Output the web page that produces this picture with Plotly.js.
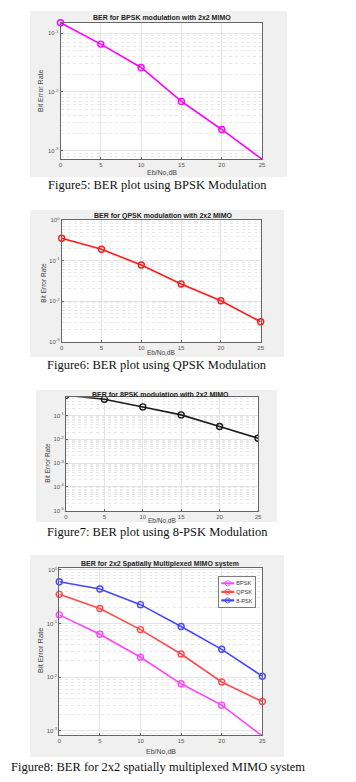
<!DOCTYPE html>
<html><head><meta charset="utf-8">
<script src="https://cdn.plot.ly/plotly-3.0.1.min.js"></script>
<style>html,body{margin:0;padding:0;background:#fff}#c{width:356px;height:782px}</style>
</head><body><div id="c"></div>
<script>
// ---- data ----
const ebNo = [0, 5, 10, 15, 20, 25];
const xTickVals = [0, 5, 10, 15, 20, 25];
const berBpskFig5 = [0.15, 0.065, 0.026, 0.0069, 0.0023, 0.00072];
const berQpskFig6 = [0.355, 0.19, 0.078, 0.0265, 0.0102, 0.0031];
const ber8pskFig7 = [0.7, 0.48, 0.227, 0.105, 0.034, 0.011];
const berBpskFig8 = [0.145, 0.063, 0.0235, 0.0075, 0.003, 0.0008];
const berQpskFig8 = [0.35, 0.19, 0.077, 0.027, 0.0081, 0.0035];
const ber8pskFig8 = [0.6, 0.44, 0.225, 0.088, 0.033, 0.0104];
const legendNames = ['BPSK', 'QPSK', '8-PSK'];
const yTickVals = [1, 0.1, 0.01, 0.001, 0.0001, 0.00001];
const yTickText = ['10<sup>0</sup>', '10<sup>-1</sup>', '10<sup>-2</sup>', '10<sup>-3</sup>', '10<sup>-4</sup>', '10<sup>-5</sup>'];
const minorVals = [];
[1, 0.1, 0.01, 0.001, 0.0001, 0.00001].forEach(d => { for (let k = 2; k <= 9; k++) minorVals.push(d * k / 10); });
const chartTitles = ['BER for BPSK modulation with 2x2 MIMO', 'BER for QPSK modulation with 2x2 MIMO',
  'BER for 8PSK modulation with 2x2 MIMO', 'BER for 2x2 Spatially Multiplexed MIMO system'];
const captions = ['Figure5: BER plot using BPSK Modulation', 'Figure6: BER plot using QPSK Modulation',
  'Figure7: BER plot using 8-PSK Modulation', 'Figure8: BER for 2x2 spatially multiplexed MIMO system'];
const xTitle = 'Eb/No,dB';
const yTitle = 'Bit Error Rate';

// ---- layout helpers ----
const W = 356, H = 782;
const px = v => v / W, py = v => 1 - v / H;
const SANS = 'Liberation Sans, Arial, sans-serif';
const tickFont = {family: SANS, size: 6, color: '#555'};

function xAxis(l, r, anchor) {
  return {domain: [px(l), px(r)], anchor: anchor, range: [0, 25], tickvals: xTickVals,
    showline: true, mirror: true, linecolor: '#666', linewidth: 1, ticks: 'inside', ticklen: 2, tickcolor: '#666',
    showgrid: true, gridcolor: '#e3e3e3', zeroline: false, tickfont: tickFont, fixedrange: true};
}
function yAxis(t, b, anchor, range) {
  return {domain: [py(b), py(t)], anchor: anchor, type: 'log', range: range,
    tickmode: 'array', tickvals: yTickVals, ticktext: yTickText,
    minor: {tickmode: 'array', tickvals: minorVals, showgrid: true, gridcolor: '#e8e8e8', griddash: 'dot', ticks: ''},
    showline: true, mirror: true, linecolor: '#666', linewidth: 1, ticks: 'inside', ticklen: 2, tickcolor: '#666',
    showgrid: true, gridcolor: '#e3e3e3', zeroline: false, tickfont: tickFont, fixedrange: true};
}
function line(y, color, xa, ya, name, show, clip) {
  return {x: ebNo, y: y, xaxis: xa, yaxis: ya, type: 'scatter', mode: 'lines+markers', name: name,
    showlegend: show, cliponaxis: clip,
    line: {color: color, width: 1.6}, marker: {symbol: 'circle-open', size: 6, color: color, line: {width: 1.4, color: color}}};
}

const data = [
  line(berBpskFig5, '#ff00ff', 'x', 'y', 'BPSK', false, false),
  line(berQpskFig6, '#ff1a1a', 'x2', 'y2', 'QPSK', false, false),
  line(ber8pskFig7, '#1a1a1a', 'x3', 'y3', '8-PSK', false, true),
  line(berBpskFig8, '#ff44ff', 'x4', 'y4', legendNames[0], true, false),
  line(berQpskFig8, '#ff4a4a', 'x4', 'y4', legendNames[1], true, false),
  line(ber8pskFig8, '#4646ff', 'x4', 'y4', legendNames[2], true, false)
];

// figure boxes: [left, top, right, bottom]
const figBoxes = [[30, 11, 287, 177], [30, 210, 284, 357], [36, 390, 277, 522], [30, 555, 284, 757]];
const shapes = [];
figBoxes.forEach(b => shapes.push({type: 'rect', xref: 'paper', yref: 'paper', layer: 'below',
  x0: px(b[0]), x1: px(b[2]), y0: py(b[3]), y1: py(b[1]), fillcolor: '#f0f0f0', line: {width: 0}}));
['', '2', '3', '4'].forEach(s => shapes.push({type: 'rect', xref: 'x' + s + ' domain', yref: 'y' + s + ' domain', layer: 'below',
  x0: 0, x1: 1, y0: 0, y1: 1, fillcolor: '#ffffff', line: {width: 0}}));

const titlePos = [[161.5, 18], [163, 215.7], [160.5, 394.3], [160, 564]];
const capPos = [[157, 185], [157, 365], [157, 531.5], [157.5, 767]];
const xTitlePos = [[161.7, 172.5, 7], [161, 353, 6.5], [162, 520.5, 6.5], [161, 751.5, 7]];
const yTitlePos = [[40, 91, 7], [42.7, 283, 6.5], [46.7, 463, 6.5], [40, 651, 7.5]];
const annotations = [];
// captions first so the smaller texts are drawn above them
captions.forEach((t, i) => annotations.push({text: t, xref: 'paper', yref: 'paper',
  x: px(capPos[i][0]), y: py(capPos[i][1]), xanchor: 'center', yanchor: 'middle', showarrow: false,
  font: {family: 'Liberation Serif, Times New Roman, serif', size: 12.5, color: '#111'}}));
chartTitles.forEach((t, i) => annotations.push({text: '<b>' + t + '</b>', xref: 'paper', yref: 'paper',
  x: px(titlePos[i][0]), y: py(titlePos[i][1]), xanchor: 'center', yanchor: 'middle', showarrow: false,
  font: {family: SANS, size: 7, color: '#222'}}));
xTitlePos.forEach(p => annotations.push({text: xTitle, xref: 'paper', yref: 'paper',
  x: px(p[0]), y: py(p[1]), xanchor: 'center', yanchor: 'middle', showarrow: false,
  font: {family: SANS, size: p[2], color: '#444'}}));
yTitlePos.forEach(p => annotations.push({text: yTitle, xref: 'paper', yref: 'paper', textangle: -90,
  x: px(p[0]), y: py(p[1]), xanchor: 'center', yanchor: 'middle', showarrow: false,
  font: {family: SANS, size: p[2], color: '#444'}}));

const layout = {
  width: W, height: H, margin: {l: 0, r: 0, t: 0, b: 0},
  paper_bgcolor: '#ffffff', plot_bgcolor: '#ffffff',
  font: {family: SANS, size: 6, color: '#444'},
  xaxis: xAxis(60.5, 262, 'y'), yaxis: yAxis(22.5, 159, 'x', [-3.14, -0.82]),
  xaxis2: xAxis(61.7, 260.7, 'y2'), yaxis2: yAxis(220, 341.7, 'x2', [-3, 0]),
  xaxis3: xAxis(66, 258, 'y3'), yaxis3: yAxis(397.3, 510.7, 'x3', [-5, -0.24]),
  xaxis4: xAxis(59.3, 262.3, 'y4'), yaxis4: yAxis(568.3, 735, 'x4', [-3.08, 0.03]),
  showlegend: true,
  legend: {x: px(218.3), y: py(576), xanchor: 'left', yanchor: 'top', bgcolor: '#ffffff', bordercolor: '#666', borderwidth: 2,
    font: {family: SANS, size: 13, color: '#333'}, tracegroupgap: 0, itemwidth: 30, itemsizing: 'constant'},
  shapes: shapes, annotations: annotations
};
Plotly.newPlot('c', data, layout, {staticPlot: true, displayModeBar: false}).then(gd => {
  // compact the legend to match the small MATLAB legend box
  const lg = gd.querySelector('.legend');
  if (lg) lg.setAttribute('transform', (lg.getAttribute('transform') || '') + ' scale(0.43)');
});
</script></body></html>
